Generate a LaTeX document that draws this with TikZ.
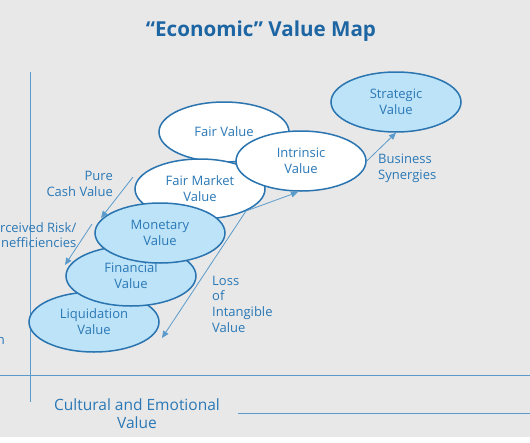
\documentclass[tikz,border=0pt]{standalone}
\usepackage{fontspec}
\setmainfont{Open Sans}
\usetikzlibrary{shapes.geometric,arrows.meta}
\definecolor{bg}{HTML}{E8E8E8}
\definecolor{edgeblue}{HTML}{2A74B0}
\definecolor{lightfill}{HTML}{BDE3F8}
\definecolor{txtblue}{HTML}{2A78B6}
\definecolor{titleblue}{HTML}{1D66A3}
\definecolor{axisblue}{HTML}{5A9BCB}
\tikzset{
  val/.style={ellipse, draw=edgeblue, line width=1.5pt, minimum width=130pt, minimum height=60pt, inner sep=0pt, align=center, text=txtblue, font=\fontsize{13}{16}\selectfont},
  whiteval/.style={val, fill=white},
  blueval/.style={val, fill=lightfill},
  lbl/.style={text=txtblue, font=\fontsize{13}{15.7}\selectfont, inner sep=0pt},
  arr/.style={draw=axisblue, line width=0.8pt, -{Triangle[length=7pt,width=6pt]}},
  axis/.style={draw=axisblue, line width=1pt}
}
\begin{document}
\begin{tikzpicture}[x=1pt,y=-1pt]
\useasboundingbox (0,0) rectangle (530,442);
\fill[white] (0,0) rectangle (530,442);
\fill[bg] (0,0) rectangle (530,437);
\node[text=titleblue, font=\fontsize{20.6}{24}\selectfont\bfseries] (title) at (261,31) {“Economic” Value Map};
% axes
\coordinate (vtop) at (30,72);
\coordinate (vbot) at (30,402);
\draw[axis] (vtop) -- (vbot);
\coordinate (hl) at (0,375);
\coordinate (hr) at (530,375);
\draw[axis] (hl) -- (hr);
\coordinate (bl) at (238,413.5);
\coordinate (br) at (530,413.5);
\draw[axis] (bl) -- (br);
% ellipses
\node[blueval] (strat) at (396,102) {Strategic\\Value};
\node[whiteval] (fair) at (224,132) {Fair Value};
\node[whiteval] (fmv) at (200,189) {Fair Market\\Value};
\node[whiteval] (intr) at (301,161) {Intrinsic\\Value};
\node[blueval] (liq) at (94,322) {Liquidation\\Value};
\node[blueval] (fin) at (131,276) {Financial\\Value};
\node[blueval] (mon) at (160,233) {Monetary\\Value};
% labels
\node[lbl, align=right, anchor=east] (pure) at (113,184) {Pure\\Cash Value};
\node[lbl, align=right, anchor=east] (risk) at (76.5,235) {Perceived Risk/\\Inefficiencies};
\node[lbl, align=left, anchor=west] (loss) at (212,304) {Loss\\of\\Intangible\\Value};
\node[lbl, align=left, anchor=west] (syn) at (378,168) {Business\\Synergies};
\node[lbl, anchor=east] (cutn) at (5,341) {n};
\node[lbl, align=center, font=\fontsize{15.5}{18}\selectfont] (cult) at (137,414) {Cultural and Emotional\\Value};
% arrows
\coordinate (p1) at (133,177);
\coordinate (p2) at (101,218);
\draw[arr] (p1) -- (p2);
\coordinate (r1) at (92,224);
\coordinate (r2) at (65,265);
\draw[arr] (r1) -- (r2);
\coordinate (f0) at (246,211);
\coordinate (l2) at (162,338);
\draw[arr] (f0) -- (l2);
\coordinate (i2) at (298,192);
\draw[arr] (f0) -- (i2);
\draw[arr] (intr.east) -- (strat.south);
\end{tikzpicture}
\end{document}
